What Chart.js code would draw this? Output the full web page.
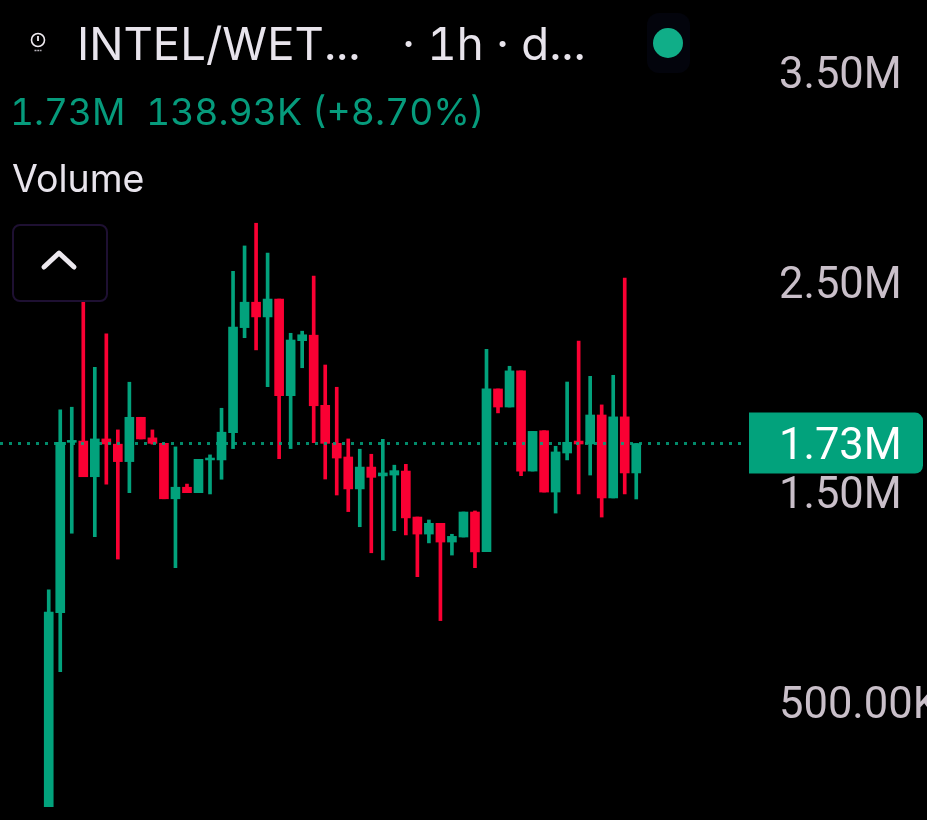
<!DOCTYPE html>
<html>
<head>
<meta charset="utf-8">
<title>INTEL/WETH</title>
<script src="https://cdn.jsdelivr.net/npm/chart.js@4"></script>
<style>
  html, body { margin: 0; background: #000; overflow: hidden; }
  #wrap { position: relative; width: 927px; height: 820px; font-family: Inter, sans-serif; font-variant-numeric: tabular-nums; font-feature-settings: "tnum"; }
  canvas { position: absolute; left: 0; top: 0; }
  .txt { position: absolute; white-space: pre; line-height: 1; }
  #button {
    position: absolute; left: 12px; top: 224px; width: 92px; height: 74px;
    background: #000; border: 2px solid #1e1032; border-radius: 8px;
  }
  #halo { position: absolute; left: 647px; top: 13px; width: 43px; height: 60px; background: #03040c; border-radius: 12px; }
  #dot { position: absolute; left: 653px; top: 28px; width: 30px; height: 30px; background: #10ae88; border-radius: 50%; }
</style>
</head>
<body>
<div id="wrap">
  <canvas id="chart" width="927" height="820"></canvas>
  <svg style="position:absolute;left:28px;top:30px" width="20" height="24" viewBox="0 0 20 24">
    <circle cx="10" cy="10" r="6.5" fill="none" stroke="#f0ecf2" stroke-width="1.6"/>
    <path d="M10 6v5" stroke="#f0ecf2" stroke-width="1.8"/>
    <path d="M6.5 20.5h7" stroke="#b8b4bc" stroke-width="1.4" stroke-dasharray="2 0.8"/>
  </svg>
  <div class="txt" style="left:77px;top:21px;font-size:45.5px;color:#e8e4ec">INTEL/WET...</div>
  <div class="txt" style="left:402px;top:21px;font-size:45.5px;color:#e8e4ec">· 1h · d...</div>
  <div id="halo"></div>
  <div id="dot"></div>
  <div class="txt" style="left:10px;top:93px;font-size:37px;color:#069b7c">1.73M</div>
  <div class="txt" style="left:146px;top:93px;font-size:37.3px;color:#069b7c">138.93K (+8.70%)</div>
  <div class="txt" style="left:12px;top:160px;font-size:37.5px;color:#e8e4ec">Volume</div>
  <div id="button">
    <svg style="position:absolute;left:25px;top:22px" width="40" height="24" viewBox="0 0 40 24">
      <path d="M5 19L20 5L35 19" fill="none" stroke="#ece8ee" stroke-width="5" stroke-linecap="round" stroke-linejoin="round"/>
    </svg>
  </div>
</div>
<script>
// values in millions
const opens = [0.004,0.928,1.739,1.745,1.575,1.755,1.730,1.647,1.858,1.760,1.734,1.470,1.525,1.499,1.655,1.655,1.785,2.285,2.406,2.336,2.421,1.961,2.223,2.249,1.915,1.734,1.669,1.517,1.621,1.579,1.583,1.602,1.383,1.302,1.353,1.264,1.288,1.407,1.218,1.993,1.907,2.079,1.602,1.794,1.502,1.688,1.745,1.731,1.869,1.474,1.860,1.593]
const highs = [1.036,1.893,1.906,2.417,2.096,2.255,1.798,2.025,1.858,1.798,1.734,1.717,1.540,1.658,1.679,1.901,2.553,2.674,2.782,2.640,2.421,2.258,2.268,2.531,2.107,2.001,1.755,1.706,1.682,1.753,1.630,1.634,1.383,1.369,1.353,1.301,1.407,1.412,2.182,1.993,2.101,2.079,1.791,1.794,1.720,2.026,2.221,2.053,1.917,2.058,2.521,1.733]
const lows = [0.004,0.647,1.306,1.575,1.290,1.540,1.183,1.499,1.755,1.730,1.470,1.142,1.499,1.499,1.493,1.563,1.709,2.237,2.179,2.004,1.661,1.709,2.094,1.737,1.564,1.488,1.409,1.337,1.213,1.179,1.318,1.298,1.099,1.260,0.890,1.202,1.288,1.142,1.218,1.879,1.907,1.580,1.602,1.502,1.402,1.655,1.493,1.583,1.383,1.474,1.493,1.469]
const closes = [0.930,1.739,1.748,1.575,1.755,1.731,1.647,1.858,1.755,1.734,1.470,1.525,1.499,1.658,1.664,1.787,2.288,2.406,2.336,2.421,1.961,2.226,2.251,1.913,1.734,1.664,1.517,1.621,1.572,1.593,1.604,1.379,1.302,1.353,1.264,1.291,1.407,1.217,1.993,1.907,2.079,1.602,1.791,1.502,1.693,1.739,1.731,1.869,1.474,1.860,1.593,1.733]
const yTicks = [0.5, 1.5, 2.5, 3.5]
const lastPrice = closes[closes.length - 1]

const xMin = -4.23
const xMax = 60.44

const green = '#02a27c'
const red = '#fa0033'
const colors = closes.map((c, i) => c >= opens[i] ? green : red)

function formatTick(v) {
    return v < 1 ? (v * 1000).toFixed(2) + 'K' : v.toFixed(2) + 'M'
}

const priceTag = {
    id: 'priceTag',
    afterDraw(chart) {
        const ctx = chart.ctx
        const y = chart.scales.y.getPixelForValue(lastPrice)
        ctx.save()
        ctx.fillStyle = green
        ctx.beginPath()
        ctx.roundRect(749, y - 31, 174, 61, [0, 8, 8, 0])
        ctx.fill()
        ctx.fillStyle = '#fff'
        ctx.font = '43.5px Roboto'
        ctx.textBaseline = 'middle'
        ctx.fillText(formatTick(lastPrice), 779, y + 5)
        ctx.restore()
    }
}

new Chart(document.getElementById('chart'), {
    type: 'bar',
    plugins: [priceTag],
    data: {
        datasets: [
            {
                type: 'line',
                data: [{x: xMin, y: lastPrice}, {x: xMax, y: lastPrice}],
                borderColor: 'rgba(2,162,124,0.85)',
                borderWidth: 3,
                borderDash: [3, 6],
                pointRadius: 0,
                order: 0
            },
            {
                data: closes.map((c, i) => ({x: i, y: [opens[i], c]})),
                backgroundColor: colors,
                barThickness: 9,
                order: 1
            },
            {
                data: closes.map((c, i) => ({x: i, y: [lows[i], highs[i]]})),
                backgroundColor: colors,
                barThickness: 3,
                order: 2
            }
        ]
    },
    options: {
        responsive: false,
        animation: false,
        events: [],
        layout: {padding: 0},
        datasets: {bar: {grouped: false, borderWidth: 0}},
        plugins: {legend: {display: false}, tooltip: {enabled: false}},
        scales: {
            x: {type: 'linear', display: false, offset: false, min: xMin, max: xMax},
            y: {
                position: 'right',
                min: -0.0595,
                max: 3.845,
                grid: {display: false, drawTicks: false},
                border: {display: false},
                afterBuildTicks: scale => { scale.ticks = yTicks.map(v => ({value: v})) },
                afterFit: scale => {
                    scale.width = 182
                    scale.paddingTop = 0
                    scale.paddingBottom = 0
                },
                ticks: {
                    autoSkip: false,
                    padding: 34,
                    labelOffset: 5,
                    color: '#c9bfc9',
                    font: {family: 'Roboto', size: 43.5},
                    callback: v => formatTick(v)
                }
            }
        }
    }
})
</script>
</body>
</html>
